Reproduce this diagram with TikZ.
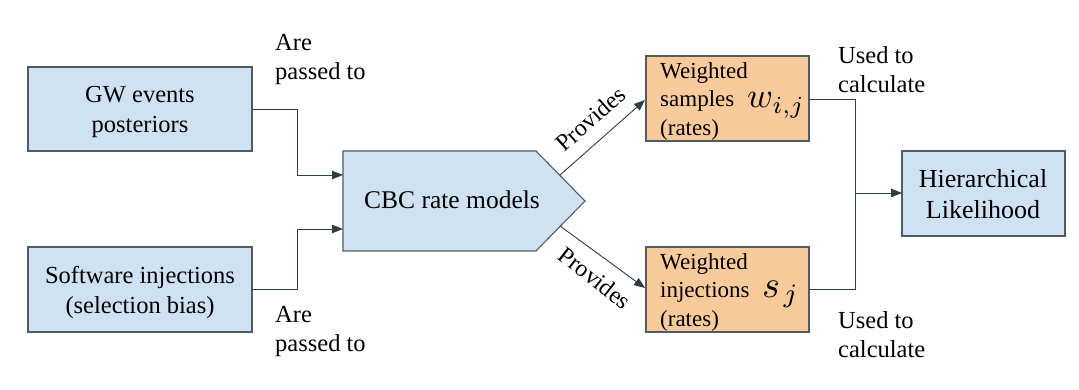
\documentclass[tikz,border=0pt]{standalone}
\usepackage{graphicx}
\usepackage{fontspec}
\setmainfont{Liberation Serif}
\newfontfamily\lser{Liberation Serif}
\usetikzlibrary{arrows.meta}
\definecolor{bluefill}{HTML}{CFE2F3}
\definecolor{orangefill}{HTML}{F9CB9C}
\definecolor{edgegray}{HTML}{505C62}
\definecolor{linecol}{HTML}{2F3E46}
\begin{document}
\begin{tikzpicture}[x=1pt,y=-1pt,
  box/.style={draw=edgegray,line width=1.1pt,fill=bluefill},
  obox/.style={draw=edgegray,line width=1.1pt,fill=orangefill},
  conn/.style={draw=linecol,line width=0.9pt,-{Triangle[length=11pt,width=8.5pt]}},
  plain/.style={draw=linecol,line width=0.9pt},
  lbl/.style={font=\lser\fontsize{24.5}{29}\selectfont,align=left,inner sep=0pt,anchor=north west},
  btxt/.style={font=\lser\fontsize{24.5}{30}\selectfont,align=center,inner sep=0pt,anchor=north},
  otxt/.style={font=\lser\fontsize{23}{28.5}\selectfont,align=left,inner sep=0pt,anchor=north west},
  ptxt/.style={font=\lser\fontsize{24}{24}\selectfont,inner sep=0pt}]
\useasboundingbox (0,0) rectangle (1079,390);

% left boxes
\draw[box] (28,67) rectangle (252,151);
\node[btxt] (gw) at (140,86.5) {GW events\\posteriors};
\coordinate (gwout) at (252,109);
\draw[box] (28,247) rectangle (252,332);
\node[btxt] (sw) at (140,266) {Software injections\\(selection bias)};
\coordinate (swout) at (252,289);

% CBC pentagon
\draw[box] (343,151) -- (536,151) -- (585,201) -- (536,251) -- (343,251) -- cycle;
\node[btxt,font=\lser\fontsize{25.5}{31}\selectfont,anchor=base] (cbc) at (452,209) {CBC rate models};
\coordinate (cbcin1) at (343,175);
\coordinate (cbcin2) at (343,229);
\coordinate (cbcup) at (560,175);
\coordinate (cbclo) at (560,226);

% orange boxes
\draw[obox] (646,56) rectangle (809,141);
\node[otxt] (ws) at (660,62) {Weighted\\samples\\(rates)};
\node[inner sep=0pt,anchor=base west] (wij) at (747,108) {\scalebox{3.5}{$w_{i,j}$}};
\coordinate (wsin) at (645,100);
\coordinate (wsout) at (809,99);

\draw[obox] (646,247) rectangle (809,332);
\node[otxt] (wi) at (660,253) {Weighted\\injections\\(rates)};
\node[inner sep=0pt,anchor=base west] (sj) at (762,297) {\scalebox{3.8}{$s_{\mkern2mu j}$}};
\coordinate (wiin) at (645,288);
\coordinate (wiout) at (809,289);

% hierarchical likelihood
\draw[box] (902,151) rectangle (1065,236);
\node[btxt,font=\lser\fontsize{26}{31}\selectfont] (hl) at (983,169) {Hierarchical\\Likelihood};
\coordinate (hlin) at (902,193);

% connectors
\draw[conn] (gwout) -- (297,109) -- (297,175) -- (cbcin1);
\draw[conn] (swout) -- (297,289) -- (297,229) -- (cbcin2);
\draw[conn] (cbcup) -- (wsin);
\draw[conn] (cbclo) -- (wiin);
\draw[plain] (wsout) -- (855,99) -- (855,289) -- (wiout);
\draw[conn] (855,193) -- (hlin);

% labels
\node[lbl] (l1) at (275,34) {Are\\passed to};
\node[lbl] (l2) at (275,306) {Are\\passed to};
\node[lbl] (l3) at (838,46) {Used to\\calculate};
\node[lbl] (l4) at (838,311) {Used to\\calculate};
\node[ptxt,rotate=41.5] (p1) at (591,119) {Provides};
\node[ptxt,rotate=-38] (p2) at (595,278) {Provides};
\end{tikzpicture}
\end{document}
